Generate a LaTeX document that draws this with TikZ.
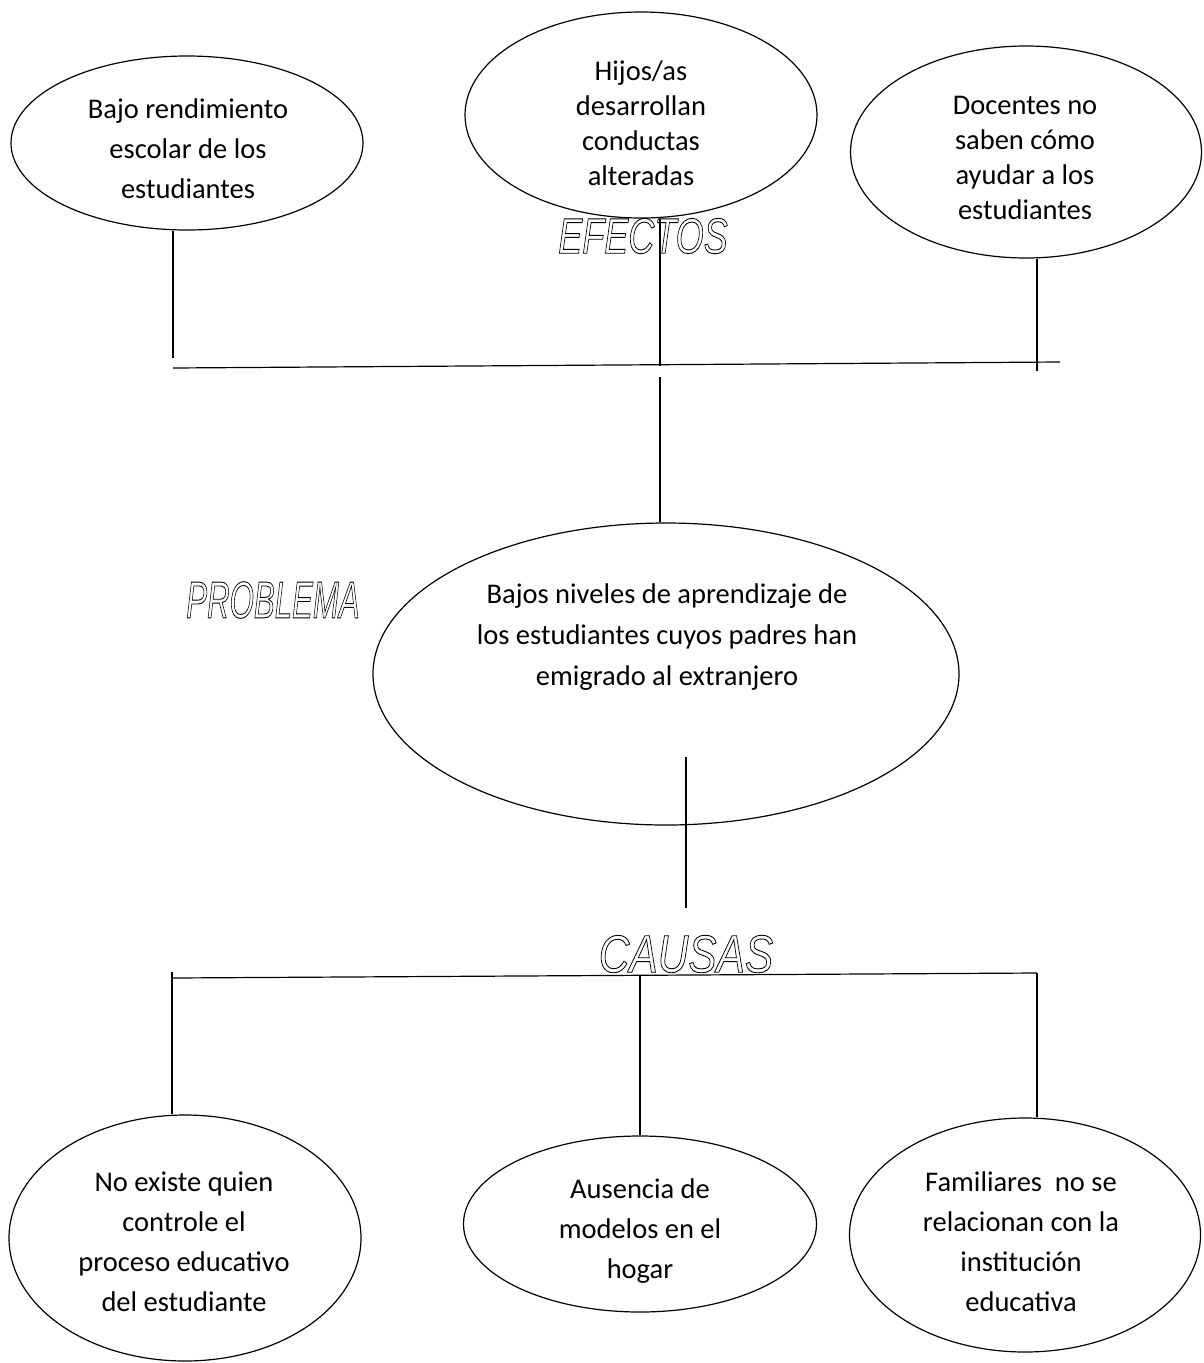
\documentclass[tikz,border=0pt]{standalone}
\usepackage{fontspec}
\setmainfont{Carlito}
\newfontfamily\wafont{Liberation Sans}
\usetikzlibrary{shapes.geometric}
\newcommand\outlinetext[1]{\special{pdf:literal direct 1 Tr 0.9 w}#1\special{pdf:literal direct 0 Tr}}
\begin{document}
\begin{tikzpicture}[x=1pt,y=-1pt,
  bubble/.style={draw, line width=1.2pt, ellipse, inner sep=0pt},
  txt/.style={align=center, inner sep=0pt, font=\fontsize{28.5}{40}\selectfont},
  txtnarrow/.style={align=center, inner sep=0pt, font=\fontsize{28.5}{35}\selectfont},
  conn/.style={line width=1.2pt},
  wordart/.style={inner sep=0pt, font=\wafont\itshape\fontsize{50}{50}\selectfont}]
\useasboundingbox (0,0) rectangle (1204,1363);
\fill[white] (0,0) rectangle (1204,1363);

% effects
\node[bubble, minimum width=352pt, minimum height=174pt] (e1) at (187,143) {};
\node[bubble, minimum width=352pt, minimum height=206pt] (e2) at (641,115) {};
\node[bubble, minimum width=351pt, minimum height=212pt] (e3) at (1026,152) {};
\node[txt] (t1) at (188,149) {Bajo rendimiento\\escolar de los\\estudiantes};
\node[txtnarrow] (t2) at (641,123) {Hijos/as\\desarrollan\\conductas\\alteradas};
\node[txtnarrow] (t3) at (1025,158) {Docentes no\\saben cómo\\ayudar a los\\estudiantes};

% problem
\node[bubble, minimum width=586pt, minimum height=302pt] (p) at (666,674) {};
\node[txt, font=\fontsize{28.5}{41}\selectfont] (tp) at (667,637) {Bajos niveles de aprendizaje de\\los estudiantes cuyos padres han\\emigrado al extranjero};

% causes
\node[bubble, minimum width=352pt, minimum height=246pt] (b1) at (185,1238) {};
\node[bubble, minimum width=353pt, minimum height=176pt] (b2) at (640,1224) {};
\node[bubble, minimum width=351pt, minimum height=234pt] (b3) at (1025,1235) {};
\node[txt] (s1) at (184,1242) {No existe quien\\controle el\\proceso educativo\\del estudiante};
\node[txt] (s2) at (640,1231) {Ausencia de\\modelos en el\\hogar};
\node[txt] (s3) at (1021,1242) {Familiares\ \ no se\\relacionan con la\\institución\\educativa};

% connector coordinates
\coordinate (c1) at (173,358);
\coordinate (h1L) at (173,368);
\coordinate (h1R) at (1060,362);
\coordinate (m1) at (660,366);
\coordinate (m2) at (660,377);
\coordinate (c3) at (1037,371);
\coordinate (l1) at (686,757);
\coordinate (l2) at (686,908);
\coordinate (h2L) at (173,978);
\coordinate (h2R) at (1037,973);
\coordinate (v1) at (172,972);
\coordinate (v2) at (640,975);
\coordinate (v3) at (1037,973);

\draw[conn] (e1.south -| c1) -- (c1);
\draw[conn] (h1L) -- (h1R);
\draw[conn] (e2.south -| m1) -- (m1);
\draw[conn] (m2) -- (p.north -| m2);
\draw[conn] (e3.south -| c3) -- (c3);
\draw[conn] (l1) -- (l2);
\draw[conn] (h2L) -- (h2R);
\draw[conn] (v1) -- (b1.north -| v1);
\draw[conn] (v2) -- (b2.north -| v2);
\draw[conn] (v3) -- (b3.north -| v3);

% headings
\node[wordart] (efectos) at (643,236) {\scalebox{0.72}[1]{\outlinetext{EFECTOS}}};
\node[wordart, font=\wafont\itshape\fontsize{52}{52}\selectfont] (problema) at (273,600) {\scalebox{0.60}[1]{\outlinetext{PROBLEMA}}};
\node[wordart, font=\wafont\itshape\fontsize{53}{53}\selectfont] (causas) at (686,954) {\scalebox{0.80}[1]{\outlinetext{CAUSAS}}};
\end{tikzpicture}
\end{document}
